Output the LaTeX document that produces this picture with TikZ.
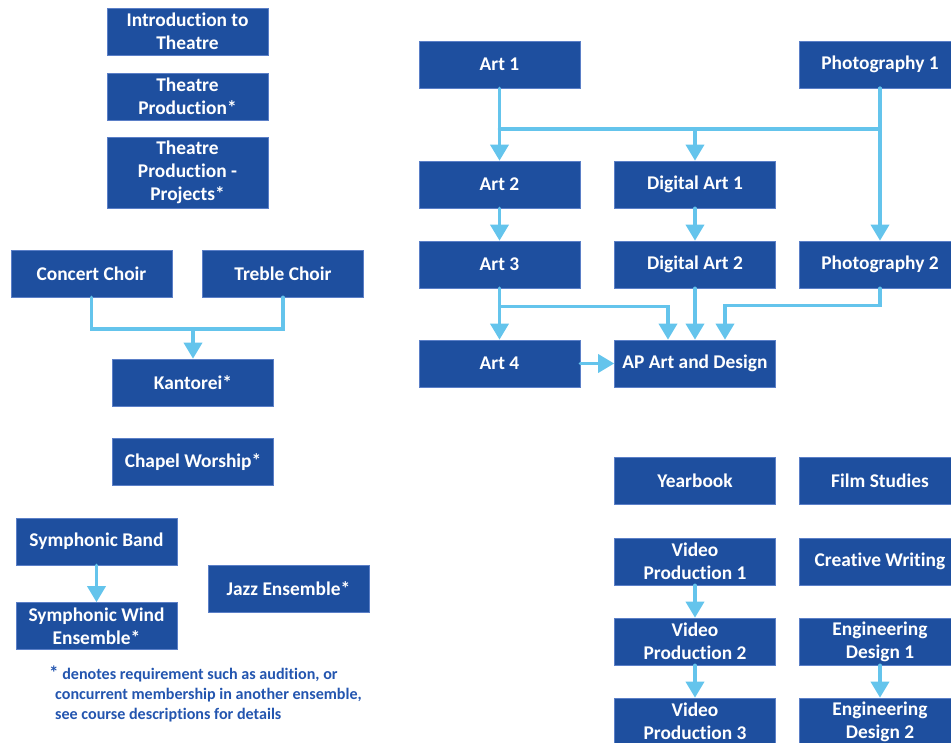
\documentclass[tikz,border=0pt]{standalone}
\usepackage{fontspec}
\setmainfont{Carlito}[Ligatures=NoCommon]
\usetikzlibrary{arrows.meta,calc}
\definecolor{boxblue}{HTML}{1E4F9F}
\definecolor{boxedge}{HTML}{5B7FC7}
\definecolor{arrowblue}{HTML}{64C4EC}
\definecolor{notetext}{HTML}{2355AF}
\tikzset{
  box/.style={draw=boxedge, line width=0.6pt, fill=boxblue, text=white,
    font=\bfseries\fontsize{19.4}{23}\selectfont, minimum width=161pt,
    minimum height=47pt, inner sep=0pt, align=center},
  tallbox/.style={box, minimum height=71pt},
  conn/.style={draw=arrowblue, line width=3.5pt, line cap=round,
    -{Triangle[width=18pt,length=16pt]}},
  plain/.style={draw=arrowblue, line width=3.5pt, line cap=round},
  note/.style={text=notetext, font=\bfseries\fontsize{16.1}{20}\selectfont,
    align=left, inner sep=0pt}
}
\begin{document}
\begin{tikzpicture}[x=1pt,y=-1pt]
\useasboundingbox (0,0) rectangle (951,743);
% Theatre
\node[box] (intro) at (187.5,31.5) {Introduction to\\Theatre};
\node[box] (tprod) at (187.5,96.5) {Theatre\\Production*};
\node[tallbox] (tproj) at (187.5,172.5) {Theatre\\Production -\\Projects*};
% Choirs
\node[box] (concert) at (91.5,273.5) {Concert Choir};
\node[box] (treble) at (283,273.5) {Treble Choir};
\node[box] (kantorei) at (193,382.5) {Kantorei*};
\node[box] (chapel) at (193,462) {Chapel Worship*};
% Band
\node[box] (symband) at (96.5,541.5) {Symphonic Band};
\node[box] (symwind) at (96.5,626) {Symphonic Wind\\Ensemble*};
\node[box] (jazz) at (288.5,588.5) {Jazz Ensemble*};
% Art
\node[box] (art1) at (499.5,64.5) {Art 1};
\node[box] (photo1) at (880,64.5) {Photography 1};
\node[box] (art2) at (499.5,184.5) {Art 2};
\node[box] (dart1) at (695,184.5) {Digital Art 1};
\node[box] (art3) at (499.5,264.5) {Art 3};
\node[box] (dart2) at (695,264.5) {Digital Art 2};
\node[box] (photo2) at (880,264.5) {Photography 2};
\node[box] (art4) at (499.5,363.5) {Art 4};
\node[box] (ap) at (695,363.5) {AP Art and Design};
% Media
\node[box] (yearbook) at (695,480.5) {Yearbook};
\node[box] (film) at (880,480.5) {Film Studies};
\node[box] (vp1) at (695,561.5) {Video\\Production 1};
\node[box] (creative) at (880,561.5) {Creative Writing};
\node[box] (vp2) at (695,641.5) {Video\\Production 2};
\node[box] (ed1) at (880,641.5) {Engineering\\Design 1};
\node[box] (vp3) at (695,721.5) {Video\\Production 3};
\node[box] (ed2) at (880,721.5) {Engineering\\Design 2};
% Footnote
\node[note, anchor=north west] (footnote) at (49,665.5)
  {{\fontsize{19}{20}\selectfont*} denotes requirement such as audition, or\\
   \hspace*{6pt}concurrent membership in another ensemble,\\
   \hspace*{6pt}see course descriptions for details};
% Connectors: choirs
\coordinate (choirbar) at (193,329);
\draw[plain] (concert.south) |- (choirbar) -| (treble.south);
\draw[conn] (choirbar) -- (kantorei.north);
% Band
\draw[conn] (symband.south) -- (symwind.north);
% Art top
\coordinate (topbar) at (499.5,129);
\draw[plain] (photo1.south) |- (topbar);
\draw[conn] (art1.south) -- (art2.north);
\draw[conn] (dart1.north |- topbar) -- (dart1.north);
\draw[conn] (photo1.south) -- (photo2.north);
\draw[conn] (art2.south) -- (art3.north);
\draw[conn] (dart1.south) -- (dart2.north);
% Art bottom
\coordinate (apL) at ([xshift=-27pt]ap.north);
\coordinate (apR) at ([xshift=30pt]ap.north);
\draw[conn] (art3.south) -- ++(0,18) -| (apL);
\draw[conn] (photo2.south) -- ++(0,17) -| (apR);
\draw[conn] (art3.south) -- (art4.north);
\draw[conn] (dart2.south) -- (ap.north);
\draw[conn] (art4.east) -- (ap.west);
% Media
\draw[conn] (vp1.south) -- (vp2.north);
\draw[conn] (vp2.south) -- (vp3.north);
\draw[conn] (ed1.south) -- (ed2.north);
\end{tikzpicture}
\end{document}
